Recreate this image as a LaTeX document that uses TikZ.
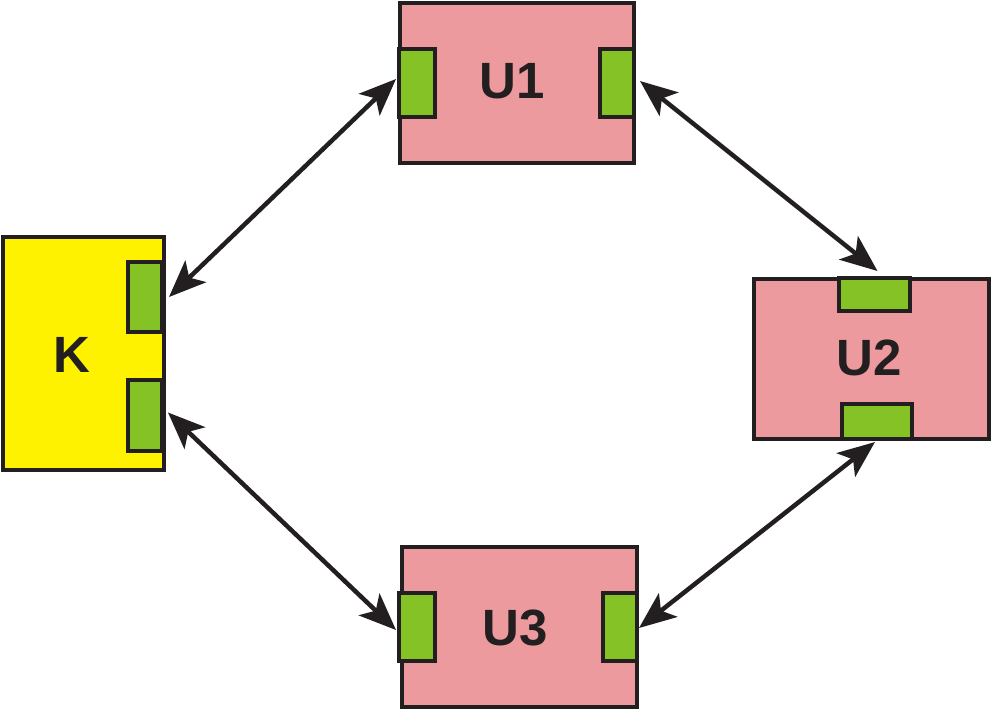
\documentclass[tikz,border=0pt]{standalone}
\usepackage{fontspec}
\setmainfont{Liberation Sans}
\usetikzlibrary{arrows.meta,calc}
\definecolor{kyellow}{HTML}{FFF200}
\definecolor{upink}{HTML}{EC9A9E}
\definecolor{pgreen}{HTML}{85C226}
\definecolor{dk}{HTML}{231F20}
\tikzset{
  boxbase/.style={draw=dk, line width=4pt, rectangle, inner sep=0pt, outer sep=0pt},
  kbox/.style={boxbase, fill=kyellow},
  ubox/.style={boxbase, fill=upink},
  port/.style={boxbase, fill=pgreen},
  lbl/.style={font=\fontsize{51}{51}\selectfont\bfseries, text=dk, inner sep=0pt},
  link/.style={draw=dk, line width=4.5pt, {Stealth[length=37pt,width=30pt,inset=9pt]}-{Stealth[length=37pt,width=30pt,inset=9pt]}}
}
\begin{document}
\begin{tikzpicture}[x=1pt,y=-1pt]
\useasboundingbox (0,0) rectangle (992,710);
% boxes
\node[kbox, minimum width=161pt, minimum height=233pt] (K) at (83,353.5) {};
\node[ubox, minimum width=234pt, minimum height=160pt] (U1) at (516.5,83) {};
\node[ubox, minimum width=235pt, minimum height=160pt] (U2) at (871.5,358.5) {};
\node[ubox, minimum width=235pt, minimum height=160pt] (U3) at (519,626.5) {};
% ports
\node[port, minimum width=34pt, minimum height=70pt] (k1) at (145,297) {};
\node[port, minimum width=34pt, minimum height=71pt] (k2) at (145,415.5) {};
\node[port, minimum width=36pt, minimum height=68pt] (u1a) at (417,83) {};
\node[port, minimum width=34pt, minimum height=68pt] (u1b) at (617,83) {};
\node[port, minimum width=71pt, minimum height=33pt] (u2a) at (874.5,294.5) {};
\node[port, minimum width=70pt, minimum height=35pt] (u2b) at (877,421.5) {};
\node[port, minimum width=36pt, minimum height=68pt] (u3a) at (417,627) {};
\node[port, minimum width=34pt, minimum height=68pt] (u3b) at (620,627) {};
% labels
\node[lbl] (tK) at (72,355) {K};
\node[lbl] (tU1) at (512,81) {U1};
\node[lbl] (tU2) at (869,358) {U2};
\node[lbl] (tU3) at (515,628) {U3};
% connectors
\draw[link] ($(k1.east)+(7,0)$) -- ($(u1a.west)+(-3,-4)$);
\draw[link] ($(u1b.east)+(6,-2)$) -- ($(u2a.north)+(3,-7)$);
\draw[link] ($(u2b.south)+(-2,3)$) -- ($(u3b.east)+(2,1)$);
\draw[link] ($(k2.east)+(6,-3)$) -- ($(u3a.west)+(-3,3)$);
\end{tikzpicture}
\end{document}
